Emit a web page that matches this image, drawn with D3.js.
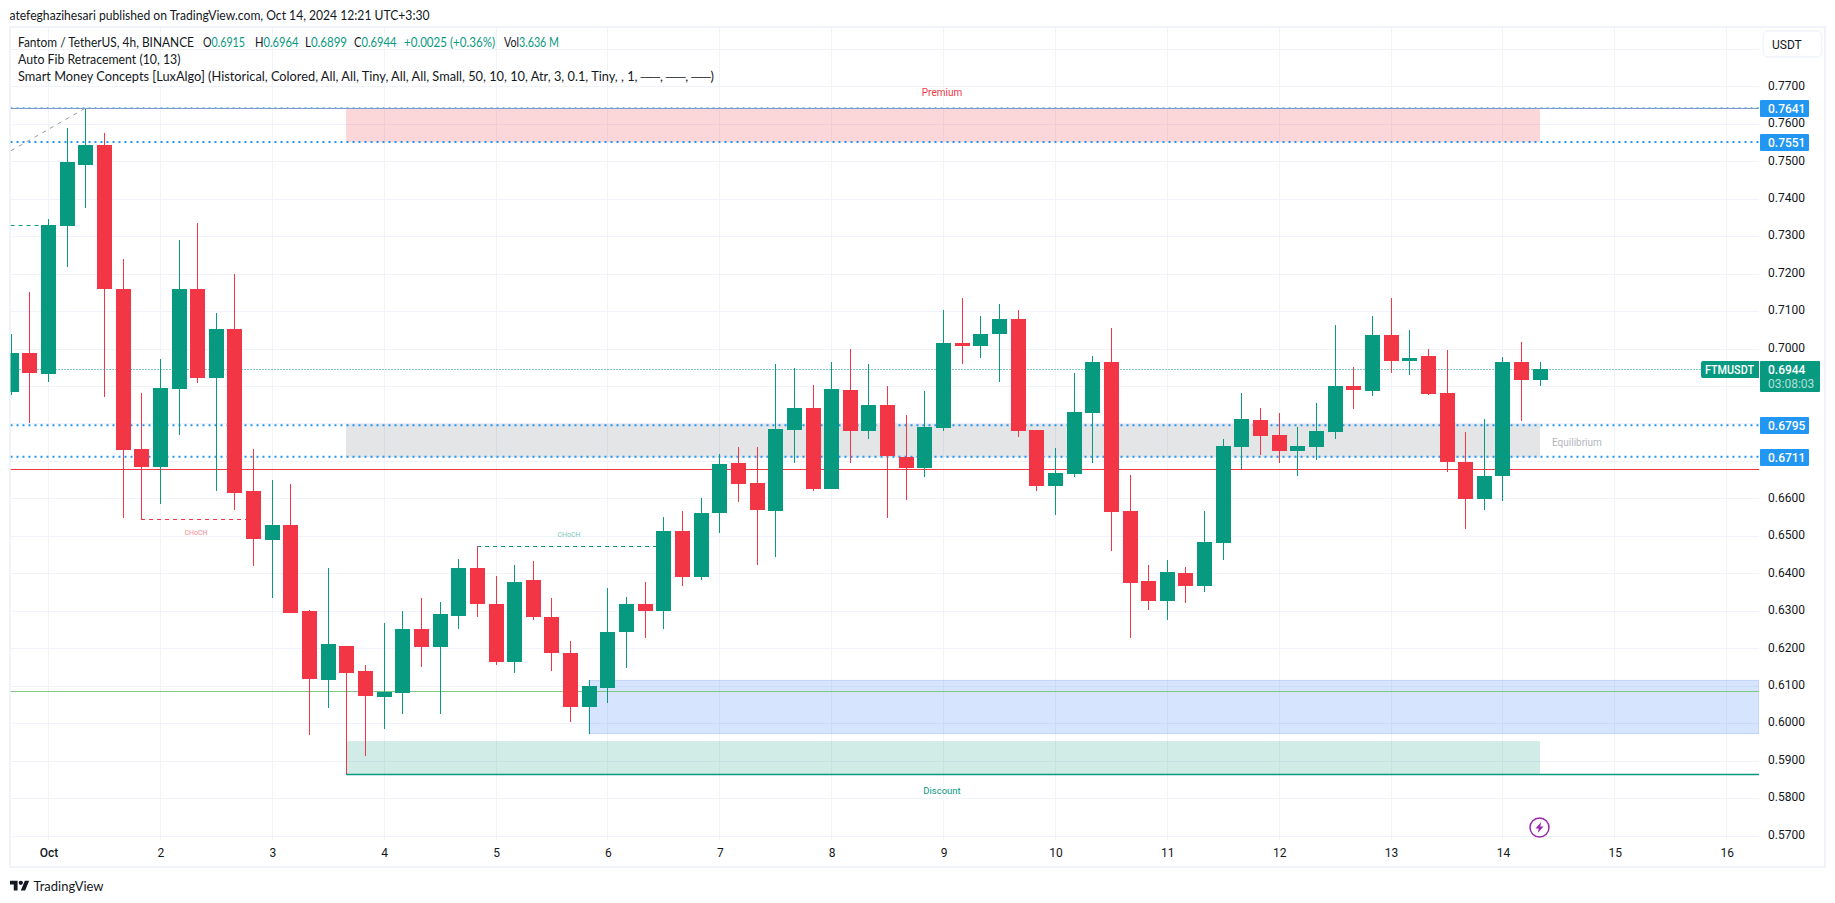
<!DOCTYPE html>
<html>
<head>
<meta charset="utf-8">
<style>
  html, body { margin: 0; padding: 0; background: #fff; }
  svg { display: block; }
  text { font-family: Roboto, sans-serif; fill: #131722; }
</style>
<script src="https://cdn.jsdelivr.net/npm/d3@7"></script>
</head>
<body>
<div id="chart"></div>
<script>
// candles (4h bars, first bar is partly cut by the left edge)
const opens = [.6883,.6987,.6931,.7326,.7491,.7542,.7158,.6731,.6683,.6891,.7160,.6920,.7051,.6619,.6490,.6528,
  .6298,.6116,.6207,.6138,.6071,.6081,.6250,.6202,.6287,.6415,.6319,.6162,.6381,.6282,.6188,.6044,.6095,.6244,
  .6319,.6298,.6512,.6391,.6560,.6694,.6640,.6566,.6782,.6840,.6624,.6888,.6779,.6848,.6710,.6680,.6787,.7016,
  .7008,.7038,.7078,.6782,.6632,.6664,.6827,.6963,.6566,.6379,.6326,.6400,.6366,.6480,.6736,.6808,.6768,.6726,
  .6736,.6776,.6899,.6886,.7035,.6968,.6979,.6880,.6696,.6598,.6659,.6964,.6915];
const highs = [.7040,.7150,.7347,.7590,.7640,.7574,.7238,.6880,.6971,.7291,.7334,.7094,.7198,.6731,.6650,.6637,
  .6301,.6415,.6207,.6156,.6268,.6298,.6333,.6322,.6437,.6474,.6394,.6423,.6434,.6335,.6218,.6116,.6362,.6338,
  .6378,.6549,.6565,.6602,.6718,.6736,.6736,.6960,.6947,.6902,.6963,.6998,.6960,.6899,.6822,.6886,.7102,.7136,
  .7086,.7118,.7102,.6782,.6734,.6934,.6979,.7054,.6662,.6422,.6435,.6416,.6566,.6758,.6880,.6840,.6827,.6790,
  .6854,.7064,.6952,.7086,.7134,.7050,.7000,.6995,.6776,.6811,.6978,.7018,.6964];
const lows = [.6875,.6801,.6910,.7217,.7375,.6870,.6547,.6543,.6584,.6768,.6907,.6619,.6568,.6420,.6333,.6293,
  .5969,.6041,.5865,.5913,.5983,.6025,.6151,.6025,.6252,.6282,.6154,.6135,.6274,.6140,.6004,.5972,.6055,.6148,
  .6228,.6250,.6367,.6383,.6507,.6590,.6422,.6443,.6694,.6619,.6624,.6694,.6758,.6547,.6595,.6656,.6779,.6960,
  .6976,.6910,.6763,.6619,.6555,.6656,.6694,.6459,.6228,.6302,.6275,.6320,.6350,.6435,.6678,.6715,.6694,.6659,
  .6702,.6758,.6838,.6872,.6934,.6928,.6875,.6670,.6518,.6568,.6593,.6807,.6899];
const closes = [.6987,.6934,.7331,.7497,.7542,.7160,.6728,.6685,.6894,.7160,.6920,.7051,.6613,.6491,.6530,.6295,
  .6119,.6210,.6135,.6073,.6084,.6250,.6202,.6290,.6413,.6317,.6162,.6378,.6282,.6186,.6044,.6098,.6244,.6319,
  .6298,.6512,.6391,.6562,.6691,.6638,.6568,.6784,.6840,.6624,.6891,.6779,.6848,.6712,.6680,.6790,.7016,.7008,
  .7040,.7078,.6779,.6632,.6667,.6830,.6963,.6563,.6374,.6326,.6403,.6366,.6483,.6739,.6811,.6766,.6726,.6739,
  .6779,.6899,.6888,.7035,.6966,.6976,.6878,.6696,.6598,.6659,.6964,.6916,.6944];

// axes
const priceTicks = [.57,.58,.59,.60,.61,.62,.63,.64,.65,.66,.67,.68,.69,.70,.71,.72,.73,.74,.75,.76,.77,.78];
// .67 to .69 sit under the price tags in the reference
const priceLabels = [.57,.58,.59,.60,.61,.62,.63,.64,.65,.66,.70,.71,.72,.73,.74,.75,.76,.77];
const dayDates = d3.range(1, 17).map(d => new Date(Date.UTC(2024, 9, d)));
const dayLabels = ["Oct","2","3","4","5","6","7","8","9","10","11","12","13","14","15","16"];

// indicator levels
const blueLevels = [.7641,.7551,.6795,.6711];
const lastPrice = .6944;
const redLevel = .6679;
const greenLevel = .6085;
const premiumZone = [.7641,.7551];
const equilibriumZone = [.6799,.6709];
const discountZone = [.5952,.5863];
const orderBlock = [.6114,.5972];
const chochRed = {price: .6544, from: 7, to: 13};
const chochGreen = {price: .6474, from: 25, to: 35};
const bosGreen = {price: .7331, from: 0, to: 2};
const trendLine = [{i: 0, price: .7528}, {i: 4, price: .7641}];

const width = 1835, height = 903;
const plot = {left: 10.5, right: 1759, top: 27, bottom: 840};
const green = "#089981", red = "#f23645", blue = "#2196f3";

const svg = d3.select("#chart").append("svg").attr("width", width).attr("height", height);

const t0 = new Date(Date.UTC(2024, 8, 30, 16));
const barTime = i => d3.utcHour.offset(t0, i * 4);

const x = d3.scaleUtc()
    .domain([dayDates[0], dayDates[15]])
    .range([48.5, 1726.7]);
const y = d3.scaleLinear()
    .domain([.57, .77])
    .range([835.5, 86.3]);
const bx = i => Math.floor(x(barTime(i)));
const py = p => Math.round(y(p));

// frame
svg.append("rect")
    .attr("x", 10).attr("y", 27).attr("width", 1815).attr("height", 840)
    .attr("fill", "none").attr("stroke", "#f0f3fa").attr("stroke-width", 2);

svg.append("clipPath").attr("id", "plotClip").append("rect")
    .attr("x", plot.left).attr("y", plot.top)
    .attr("width", plot.right - plot.left).attr("height", plot.bottom - plot.top);

const g = svg.append("g").attr("clip-path", "url(#plotClip)");

// grid
g.selectAll(".hgrid").data(priceTicks).join("line")
    .attr("x1", plot.left).attr("x2", plot.right)
    .attr("y1", d => py(d) + .5).attr("y2", d => py(d) + .5)
    .attr("stroke", "#f0f3fa");
g.selectAll(".vgrid").data(dayDates).join("line")
    .attr("x1", d => Math.floor(x(d)) + .5).attr("x2", d => Math.floor(x(d)) + .5)
    .attr("y1", plot.top).attr("y2", plot.bottom)
    .attr("stroke", "#f0f3fa");

// zones
function zone(from, to, prices, fill) {
    return g.append("rect")
        .attr("x", from).attr("width", to - from)
        .attr("y", y(prices[0])).attr("height", y(prices[1]) - y(prices[0]))
        .attr("fill", fill);
}
zone(bx(18), bx(82), premiumZone, "rgba(242,54,69,.2)");
zone(bx(18), bx(82), equilibriumZone, "rgba(120,123,134,.2)");
zone(bx(18), bx(82), discountZone, "rgba(8,153,129,.19)");
zone(bx(31), plot.right, orderBlock, "rgba(33,105,243,.18)")
    .attr("stroke", "rgba(33,105,243,.2)");

// levels
function hline(p, from, to, color, w, dash) {
    return g.append("line")
        .attr("x1", from).attr("x2", to)
        .attr("y1", py(p) + .5).attr("y2", py(p) + .5)
        .attr("stroke", color).attr("stroke-width", w)
        .attr("stroke-dasharray", dash || null);
}
g.selectAll(".blue").data(blueLevels).join("line")
    .attr("x1", plot.left).attr("x2", plot.right)
    .attr("y1", (d, i) => y(d) - (i ? 0 : .5)).attr("y2", (d, i) => y(d) - (i ? 0 : .5))
    .attr("stroke", blue).attr("stroke-width", (d, i) => i ? 2 : 1).attr("stroke-dasharray", "2 4");
hline(blueLevels[0], plot.left, plot.right, "#7a9ccc", 1);
hline(lastPrice, plot.left, plot.right, green, 1, "1 2");
hline(redLevel, plot.left, plot.right, red, 1);
hline(greenLevel, plot.left, plot.right, "#81c784", 1);
hline(discountZone[1], bx(18), plot.right, green, 1.5);
hline(chochRed.price, bx(chochRed.from), bx(chochRed.to), red, 1, "4 4");
hline(chochGreen.price, bx(chochGreen.from), bx(chochGreen.to), green, 1, "4 4");
hline(bosGreen.price, plot.left, bx(bosGreen.to), green, 1, "4 4");

g.append("line")
    .attr("x1", bx(trendLine[0].i)).attr("y1", y(trendLine[0].price))
    .attr("x2", bx(trendLine[1].i)).attr("y2", y(trendLine[1].price))
    .attr("stroke", "#9598a1").attr("stroke-dasharray", "4 5");

// candles
const candles = opens.map((o, i) => ({i, o, h: highs[i], l: lows[i], c: closes[i]}));
const color = d => d.c >= d.o ? green : red;

g.selectAll(".wick").data(candles).join("rect")
    .attr("x", d => bx(d.i))
    .attr("width", 1)
    .attr("y", d => py(d.h))
    .attr("height", d => py(d.l) - py(d.h))
    .attr("fill", color);
g.selectAll(".body").data(candles).join("rect")
    .attr("x", d => bx(d.i) - 7)
    .attr("width", 15)
    .attr("y", d => py(Math.max(d.o, d.c)))
    .attr("height", d => Math.max(2, py(Math.min(d.o, d.c)) - py(Math.max(d.o, d.c))))
    .attr("fill", color);

// indicator labels
function tag(txt, px, pyy, color, size, anchor) {
    return svg.append("text")
        .attr("x", px).attr("y", pyy)
        .attr("text-anchor", anchor || "middle")
        .attr("dominant-baseline", "central")
        .style("fill", color)
        .style("font-size", size + "px")
        .text(txt);
}
// texts that use the narrower legend face, stretched to the width seen in the reference
function legendText(txt, px, pyy, len) {
    return tag(txt, px, pyy, "#131722", 13, "start")
        .style("font-family", "Lato, sans-serif")
        .attr("textLength", len).attr("lengthAdjust", "spacingAndGlyphs");
}
tag("Premium", 942, 92.5, "#f23645", 10);
tag("Discount", 942, 790, "#089981", 9.5);
tag("Equilibrium", 1552, 442, "#b2b5be", 10, "start");
tag("CHoCH", 196, 533, "#f58a94", 7);
tag("CHoCH", 569, 535, "#79c8b8", 7);

// price axis
const yAxis = d3.axisRight(y)
    .tickValues(priceLabels)
    .tickFormat(d3.format(".4f"))
    .tickSize(0).tickPadding(9);
const yg = svg.append("g").attr("transform", `translate(${plot.right},-1)`).call(yAxis);
yg.select(".domain").remove();
yg.selectAll("text").style("font-size", "12px").style("font-family", "Roboto, sans-serif").style("fill", "#131722");

// time axis
const xAxis = d3.axisBottom(x)
    .tickValues(dayDates)
    .tickFormat((d, i) => dayLabels[i])
    .tickSize(0).tickPadding(8);
const xg = svg.append("g").attr("transform", `translate(0,${plot.bottom})`).call(xAxis);
xg.select(".domain").remove();
xg.selectAll("text").style("font-size", "12px").style("font-family", "Roboto, sans-serif").style("fill", "#131722");
xg.selectAll("text").filter((d, i) => i === 0).style("font-weight", 500);

// price tags
blueLevels.forEach(p => {
    const cy = py(p);
    svg.append("rect")
        .attr("x", 1760).attr("y", cy - 8).attr("width", 49).attr("height", 17)
        .attr("rx", 1).attr("fill", blue);
    tag(d3.format(".4f")(p), 1768, cy + .5, "#fff", 12, "start").style("font-weight", 500);
});
svg.append("rect").attr("x", 1760).attr("y", 361).attr("width", 60).attr("height", 31).attr("rx", 1).attr("fill", green);
tag(d3.format(".4f")(lastPrice), 1768, 369.5, "#fff", 12, "start").style("font-weight", 500);
tag("03:08:03", 1768, 383.5, "rgba(255,255,255,.7)", 12, "start");
svg.append("path").attr("d", "M1759 361H1703a2 2 0 0 0-2 2V376a2 2 0 0 0 2 2H1759Z").attr("fill", green);
tag("FTMUSDT", 1705, 369.5, "#fff", 12, "start").style("font-weight", 500)
    .attr("textLength", 49).attr("lengthAdjust", "spacingAndGlyphs");

// currency button
svg.append("rect")
    .attr("x", 1763.5).attr("y", 31).attr("width", 58).attr("height", 26).attr("rx", 4)
    .attr("fill", "#fff").attr("stroke", "#f0f3fa").attr("stroke-width", 1.5);
tag("USDT", 1772, 44.5, "#131722", 12, "start");

// publisher line
legendText("atefeghazihesari published on TradingView.com, Oct 14, 2024 12:21 UTC+3:30", 9.5, 15, 420);

// legend
legendText("Fantom / TetherUS, 4h, BINANCE", 18, 41.5, 176);
const ohlc = [["O","0.6915",203,42],["H","0.6964",255,43.5],["L","0.6899",305,42],["C","0.6944",354,42.5]];
ohlc.forEach(d => {
    const t = legendText(d[0], d[2], 41.5, d[3]);
    t.append("tspan").style("fill", green).text(d[1]);
});
legendText("+0.0025 (+0.36%)", 404, 41.5, 91).style("fill", green);
const vol = legendText("Vol", 504, 41.5, 55);
vol.append("tspan").style("fill", green).text("3.636 M");
legendText("Auto Fib Retracement (10, 13)", 18, 59, 162.5);
legendText("Smart Money Concepts [LuxAlgo] (Historical, Colored, All, All, Tiny, All, All, Small, 50, 10, 10, Atr, 3, 0.1, Tiny, , 1, ──, ──, ──)", 18, 76, 696);

// lightning badge
const badge = svg.append("g").attr("transform", "translate(1539.5,827.5)");
badge.append("circle").attr("r", 9.5).attr("fill", "none").attr("stroke", "#9c27b0").attr("stroke-width", 1.5);
badge.append("path").attr("d", "M1.8-5.5L-4 1H-.7L-1.8 5.5L4-1H.7Z").attr("fill", "#9c27b0");

// footer logo
const logo = svg.append("g").attr("transform", "translate(10,878.5) scale(.54)");
logo.append("path").attr("d", "M14 22H7V11H0V4h14v18zM28 22h-8l7.5-18h8L28 22z").attr("fill", "#131722");
logo.append("circle").attr("cx", 20).attr("cy", 8).attr("r", 4).attr("fill", "#131722");
legendText("TradingView", 33.5, 885.5, 70).style("font-size", "14px");
</script>
</body>
</html>
